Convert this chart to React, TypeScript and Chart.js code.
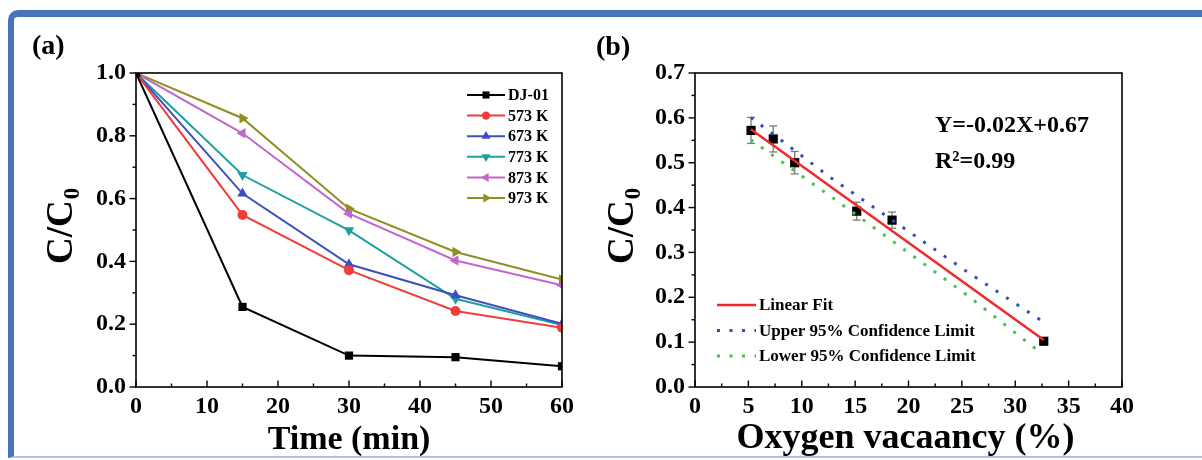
import React, { useEffect, useRef } from 'react';
import { Chart, registerables } from 'chart.js';

Chart.register(...registerables);

const FONT = '"Liberation Serif", "Times New Roman", serif';

// ---------- Panel (a) data ----------
const timeMin = [0, 15, 30, 45, 60];
const seriesNames = ['DJ-01', '573 K', '673 K', '773 K', '873 K', '973 K'];
const dj01 = [1.0, 0.255, 0.1, 0.095, 0.066];
const k573 = [1.0, 0.548, 0.372, 0.242, 0.189];
const k673 = [1.0, 0.616, 0.391, 0.292, 0.201];
const k773 = [1.0, 0.675, 0.499, 0.281, 0.197];
const k873 = [1.0, 0.808, 0.552, 0.403, 0.324];
const k973 = [1.0, 0.856, 0.568, 0.43, 0.342];
const timeTicks = [0, 10, 20, 30, 40, 50, 60];
const ratioTicksA = [0, 0.2, 0.4, 0.6, 0.8, 1.0];
const ratioTickLabelsA = ['0.0', '0.2', '0.4', '0.6', '0.8', '1.0'];

// ---------- Panel (b) data ----------
const vacancy = [5.25, 7.33, 9.34, 15.15, 18.46, 32.67];
const removal = [0.572, 0.553, 0.5, 0.392, 0.372, 0.102];
const removalErr = [0.029, 0.029, 0.025, 0.02, 0.018, 0.004];
const fitX = [5.23, 32.67];
const fitY = [0.5745, 0.1048];
const upperX = [5.23, 12.66, 25.48, 32.6];
const upperY = [0.601, 0.4675, 0.257, 0.1456];
const lowerX = [5.23, 12.66, 25.48, 32.05];
const lowerY = [0.551, 0.4258, 0.205, 0.0825];
const vacancyTicks = [0, 5, 10, 15, 20, 25, 30, 35, 40];
const ratioTicksB = [0, 0.1, 0.2, 0.3, 0.4, 0.5, 0.6, 0.7];
const ratioTickLabelsB = ['0.0', '0.1', '0.2', '0.3', '0.4', '0.5', '0.6', '0.7'];
const legendB = ['Linear Fit', 'Upper 95% Confidence Limit', 'Lower 95% Confidence Limit'];

// ---------- styles ----------
const seriesColors = ['#000000', '#f23c3c', '#3d4fbf', '#1fa0a0', '#c366c9', '#8f8f23'];
const seriesStyles = ['rect', 'circle', 'triangle', 'triangle', 'triangle', 'triangle'];
const seriesRot = [0, 0, 0, 180, -90, 90];
const seriesRadius = [5.8, 5, 6, 6, 6, 6];
const fitColor = '#ee2a2a';
const upperColor = '#3050b8';
const lowerColor = '#4cc04c';
const DOT = [3, 9.5];

function marker(ctx: CanvasRenderingContext2D, style: string, rotDeg: number, x: number, y: number, r: number) {
  const rad = (rotDeg * Math.PI) / 180;
  ctx.beginPath();
  if (style === 'circle') ctx.arc(x, y, r, 0, Math.PI * 2);
  else if (style === 'rect') {
    const s = r * Math.SQRT1_2;
    ctx.rect(x - s, y - s, 2 * s, 2 * s);
  } else {
    for (let i = 0; i < 3; i++) {
      const a = rad + (i * 2 * Math.PI) / 3;
      const px = x + Math.sin(a) * r;
      const py = y - Math.cos(a) * r;
      if (i) ctx.lineTo(px, py);
      else ctx.moveTo(px, py);
    }
    ctx.closePath();
  }
  ctx.fill();
}

function line(ctx: CanvasRenderingContext2D, x1: number, y1: number, x2: number, y2: number) {
  ctx.beginPath();
  ctx.moveTo(x1, y1);
  ctx.lineTo(x2, y2);
  ctx.stroke();
}

function txt(ctx: CanvasRenderingContext2D, s: string, x: number, y: number, size: number, align: CanvasTextAlign = 'left', baseline: CanvasTextBaseline = 'middle') {
  ctx.font = `bold ${size}px ${FONT}`;
  ctx.fillStyle = '#000';
  ctx.textAlign = align;
  ctx.textBaseline = baseline;
  ctx.fillText(s, x, y);
}

function yTitle(ctx: CanvasRenderingContext2D, baseX: number, bottomY: number, size: number) {
  ctx.save();
  ctx.translate(baseX, bottomY);
  ctx.rotate(-Math.PI / 2);
  ctx.fillStyle = '#000';
  ctx.font = `bold ${size}px ${FONT}`;
  ctx.textAlign = 'left';
  ctx.textBaseline = 'alphabetic';
  ctx.fillText('C/C', 0, 0);
  const w = ctx.measureText('C/C').width;
  ctx.font = `bold ${Math.round(size * 0.62)}px ${FONT}`;
  ctx.fillText('0', w + 1, size * 0.18);
  ctx.restore();
}

function frameAndTicks(chart: any, xMajor: number[], xStep: number, yMajor: number[], yStep: number) {
  const { ctx, chartArea: ca, scales } = chart;
  const xs = scales.x;
  const ys = scales.y;
  ctx.save();
  ctx.strokeStyle = '#000';
  ctx.lineWidth = 1.6;
  ctx.strokeRect(ca.left, ca.top, ca.right - ca.left, ca.bottom - ca.top);
  ctx.lineWidth = 1.4;
  xMajor.forEach((v, i) => {
    const px = xs.getPixelForValue(v);
    line(ctx, px, ca.bottom, px, ca.bottom - 6.5);
    if (i < xMajor.length - 1) {
      const pm = xs.getPixelForValue(v + xStep / 2);
      line(ctx, pm, ca.bottom, pm, ca.bottom - 3.5);
    }
  });
  yMajor.forEach((v, i) => {
    const py = ys.getPixelForValue(v);
    line(ctx, ca.left, py, ca.left - 6.5, py);
    if (i < yMajor.length - 1) {
      const pm = ys.getPixelForValue(v + yStep / 2);
      line(ctx, ca.left, pm, ca.left - 3.5, pm);
    }
  });
  ctx.restore();
}

const tickFont = { family: FONT, size: 24, weight: 'bold' as const };

export default function App() {
  const refA = useRef<HTMLCanvasElement>(null);
  const refB = useRef<HTMLCanvasElement>(null);

  useEffect(() => {
    const seriesA = [dj01, k573, k673, k773, k873, k973];

    const pluginA = {
      id: 'decorA',
      afterDraw(chart: any) {
        const { ctx, chartArea: ca } = chart;
        frameAndTicks(chart, timeTicks, 10, ratioTicksA, 0.2);
        ctx.save();
        txt(ctx, '(a)', 32, 47, 28);
        yTitle(ctx, 72, 264, 37);
        txt(ctx, 'Time (min)', (ca.left + ca.right) / 2, 449, 34, 'center', 'alphabetic');
        seriesNames.forEach((name, i) => {
          const y = 95 + i * 20.6;
          ctx.strokeStyle = seriesColors[i];
          ctx.fillStyle = seriesColors[i];
          ctx.lineWidth = 2;
          line(ctx, 467, y, 505, y);
          marker(ctx, seriesStyles[i], seriesRot[i], 486, y, seriesRadius[i] - 0.8);
          txt(ctx, name, 508, y + 1, 16);
        });
        ctx.restore();
      },
    };

    const chartA = new Chart(refA.current as HTMLCanvasElement, {
      type: 'line',
      data: {
        datasets: seriesNames.map((name, i) => ({
          label: name,
          data: timeMin.map((t, j) => ({ x: t, y: seriesA[i][j] })),
          borderColor: seriesColors[i],
          backgroundColor: seriesColors[i],
          borderWidth: 2,
          pointStyle: seriesStyles[i] as any,
          rotation: seriesRot[i],
          pointRadius: seriesRadius[i],
          pointBorderWidth: 0,
          tension: 0,
        })),
      },
      options: {
        responsive: false,
        animation: false,
        devicePixelRatio: 1,
        events: [],
        layout: { padding: { left: 0, right: 18, top: 73, bottom: 0 } },
        plugins: { legend: { display: false }, tooltip: { enabled: false } },
        scales: {
          x: {
            type: 'linear',
            min: 0,
            max: 60,
            afterBuildTicks: (s: any) => {
              s.ticks = timeTicks.map((v) => ({ value: v }));
            },
            afterFit: (s: any) => {
              s.height = 73;
            },
            grid: { display: false, drawTicks: false },
            border: { display: false },
            ticks: {
              padding: 5,
              color: '#000',
              font: tickFont,
              maxRotation: 0,
              autoSkip: false,
              callback: (v: any, i: number) => String(timeTicks[i]),
            },
          },
          y: {
            type: 'linear',
            min: 0,
            max: 1,
            afterBuildTicks: (s: any) => {
              s.ticks = ratioTicksA.map((v) => ({ value: v }));
            },
            afterFit: (s: any) => {
              s.width = 136;
            },
            grid: { display: false, drawTicks: false },
            border: { display: false },
            ticks: {
              padding: 10,
              color: '#000',
              font: tickFont,
              autoSkip: false,
              callback: (v: any, i: number) => ratioTickLabelsA[i],
            },
          },
        },
      } as any,
      plugins: [pluginA],
    });

    const pluginB = {
      id: 'decorB',
      beforeDatasetsDraw(chart: any) {
        const { ctx, scales } = chart;
        ctx.save();
        ctx.strokeStyle = '#7d7d7d';
        ctx.lineWidth = 1.3;
        vacancy.forEach((v, i) => {
          const px = scales.x.getPixelForValue(v);
          const top = scales.y.getPixelForValue(removal[i] + removalErr[i]);
          const bot = scales.y.getPixelForValue(removal[i] - removalErr[i]);
          line(ctx, px, top, px, bot);
          line(ctx, px - 4, top, px + 4, top);
          line(ctx, px - 4, bot, px + 4, bot);
        });
        ctx.restore();
      },
      afterDraw(chart: any) {
        const { ctx, chartArea: ca } = chart;
        frameAndTicks(chart, vacancyTicks, 5, ratioTicksB, 0.1);
        ctx.save();
        txt(ctx, '(b)', 16, 48, 28);
        yTitle(ctx, 53, 264, 37);
        txt(ctx, 'Oxygen vacaancy (%)', (ca.left + ca.right) / 2 - 3, 448, 36, 'center', 'alphabetic');
        txt(ctx, 'Y=-0.02X+0.67', 355, 126, 24);
        txt(ctx, 'R\u00B2=0.99', 355, 162, 24);
        const legendColors = [fitColor, upperColor, lowerColor];
        legendB.forEach((name, i) => {
          const y = 305 + i * 25.5;
          ctx.strokeStyle = legendColors[i];
          if (i === 0) {
            ctx.lineWidth = 2.5;
            ctx.setLineDash([]);
          } else {
            ctx.lineWidth = 3;
            ctx.setLineDash(DOT);
          }
          line(ctx, 137, y, 176, y);
          ctx.setLineDash([]);
          txt(ctx, name, 179, y + 1, 17);
        });
        ctx.restore();
      },
    };

    const chartB = new Chart(refB.current as HTMLCanvasElement, {
      type: 'scatter',
      data: {
        datasets: [
          {
            label: 'Upper',
            data: upperX.map((x, i) => ({ x, y: upperY[i] })),
            showLine: true,
            borderColor: upperColor,
            borderWidth: 3,
            borderDash: DOT,
            pointRadius: 0,
            order: 1,
          },
          {
            label: 'Lower',
            data: lowerX.map((x, i) => ({ x, y: lowerY[i] })),
            showLine: true,
            borderColor: lowerColor,
            borderWidth: 3,
            borderDash: DOT,
            pointRadius: 0,
            order: 1,
          },
          {
            label: 'Linear Fit',
            data: fitX.map((x, i) => ({ x, y: fitY[i] })),
            showLine: true,
            borderColor: fitColor,
            borderWidth: 2.5,
            pointRadius: 0,
            order: 0,
          },
          {
            label: 'Data',
            data: vacancy.map((x, i) => ({ x, y: removal[i] })),
            showLine: false,
            pointStyle: 'rect',
            pointRadius: 6.5,
            pointBorderWidth: 0,
            backgroundColor: '#000',
            borderColor: '#000',
            order: 5,
          },
        ],
      },
      options: {
        responsive: false,
        animation: false,
        devicePixelRatio: 1,
        events: [],
        layout: { padding: { left: 0, right: 80, top: 73, bottom: 0 } },
        plugins: { legend: { display: false }, tooltip: { enabled: false } },
        scales: {
          x: {
            type: 'linear',
            min: 0,
            max: 40,
            afterBuildTicks: (s: any) => {
              s.ticks = vacancyTicks.map((v) => ({ value: v }));
            },
            afterFit: (s: any) => {
              s.height = 73;
            },
            grid: { display: false, drawTicks: false },
            border: { display: false },
            ticks: {
              padding: 5,
              color: '#000',
              font: tickFont,
              maxRotation: 0,
              autoSkip: false,
              callback: (v: any, i: number) => String(vacancyTicks[i]),
            },
          },
          y: {
            type: 'linear',
            min: 0,
            max: 0.7,
            afterBuildTicks: (s: any) => {
              s.ticks = ratioTicksB.map((v) => ({ value: v }));
            },
            afterFit: (s: any) => {
              s.width = 115;
            },
            grid: { display: false, drawTicks: false },
            border: { display: false },
            ticks: {
              padding: 10,
              color: '#000',
              font: tickFont,
              autoSkip: false,
              callback: (v: any, i: number) => ratioTickLabelsB[i],
            },
          },
        },
      } as any,
      plugins: [pluginB],
    });

    return () => {
      chartA.destroy();
      chartB.destroy();
    };
  }, []);

  return (
    <div style={{ position: 'absolute', left: 0, top: 0, width: 1202, height: 460, background: '#fff', overflow: 'hidden' }}>
      <div
        style={{
          position: 'absolute',
          left: 8,
          top: 10,
          width: 1260,
          height: 448,
          boxSizing: 'border-box',
          borderLeft: '6px solid #4a73bd',
          borderTop: '7px solid #4a73bd',
          borderBottom: '2px solid #b4c2dc',
          borderTopLeftRadius: 10,
        }}
      />
      <canvas ref={refA} width={580} height={460} style={{ position: 'absolute', left: 0, top: 0, width: 580, height: 460 }} />
      <canvas ref={refB} width={622} height={460} style={{ position: 'absolute', left: 580, top: 0, width: 622, height: 460 }} />
    </div>
  );
}
